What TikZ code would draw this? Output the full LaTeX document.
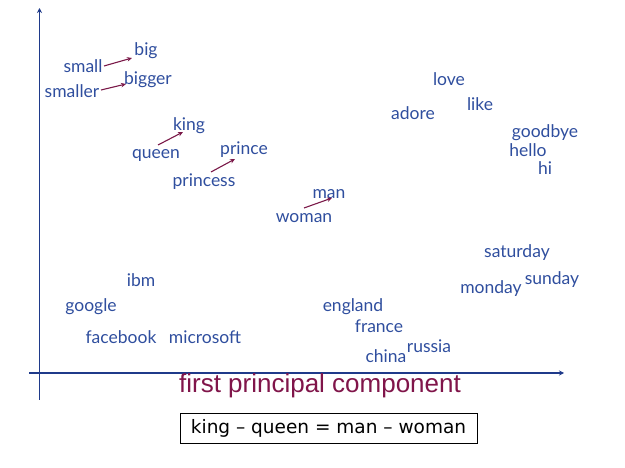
\documentclass[tikz,border=0pt]{standalone}
\usepackage{fontspec}
\setmainfont{Lato}
\newfontfamily\titlefont{Liberation Sans}
\newfontfamily\boxfont{DejaVu Sans}
\usetikzlibrary{arrows.meta}
\definecolor{wordblue}{HTML}{2F4E9E}
\definecolor{axisblue}{HTML}{1F3A8A}
\definecolor{arrred}{HTML}{7A1848}
\definecolor{titlered}{HTML}{80154A}
\tikzset{
  word/.style={text=wordblue, font=\fontsize{17.5}{20}\selectfont, inner sep=0pt, anchor=center, yshift=-2pt},
  arr/.style={draw=arrred, line width=1.1pt, -{Stealth[length=5pt,width=4.5pt]}},
  axis/.style={draw=axisblue, line width=1.8pt, -{Stealth[length=5pt,width=5pt]}}
}
\begin{document}
\begin{tikzpicture}[x=1pt,y=-1pt]
\useasboundingbox (0,0) rectangle (625,468);
% axes
\coordinate (yb) at (39.5,400);
\coordinate (yt) at (39.5,8);
\coordinate (xl) at (29,373);
\coordinate (xr) at (564,373);
\draw[axis] (yb) -- (yt);
\draw[axis] (xl) -- (xr);
% words
\node[word] (big) at (146,49) {big};
\node[word] (small) at (83,64) {small};
\node[word] (bigger) at (148,78) {bigger};
\node[word] (smaller) at (72,89) {smaller};
\node[word] (king) at (189,124) {king};
\node[word] (queen) at (156,153) {queen};
\node[word] (prince) at (244,148) {prince};
\node[word] (princess) at (204,180) {princess};
\node[word] (man) at (329,192) {man};
\node[word] (woman) at (304,216) {woman};
\node[word] (love) at (449,77) {love};
\node[word] (like) at (480,102) {like};
\node[word] (adore) at (413,111) {adore};
\node[word] (goodbye) at (545,131) {goodbye};
\node[word] (hello) at (528,148) {hello};
\node[word] (hi) at (545,166) {hi};
\node[word] (saturday) at (517,251) {saturday};
\node[word] (sunday) at (552,278) {sunday};
\node[word] (monday) at (491,287) {monday};
\node[word] (ibm) at (141,278) {ibm};
\node[word] (google) at (91,305) {google};
\node[word] (facebook) at (121,335) {facebook};
\node[word] (microsoft) at (205,335) {microsoft};
\node[word] (england) at (353,305) {england};
\node[word] (france) at (379,324) {france};
\node[word] (russia) at (429,344) {russia};
\node[word] (china) at (386,354) {china};
% arrows
\draw[arr] ([shift={(21,0)}]small.center) -- ([shift={(-14,7)}]big.center);
\draw[arr] ([shift={(29,-1)}]smaller.center) -- ([shift={(-22,4)}]bigger.center);
\draw[arr] ([shift={(2,-10)}]queen.center) -- ([shift={(-6,6)}]king.center);
\draw[arr] ([shift={(7,-10)}]princess.center) -- ([shift={(-9,9)}]prince.center);
\draw[arr] ([shift={(0,-10)}]woman.center) -- ([shift={(3,4)}]man.center);
% title and box
\node[text=titlered, font=\titlefont\fontsize{26}{30}\selectfont, inner sep=0pt] (title) at (320,386) {first principal component};
\node[draw=black, line width=1pt, font=\boxfont\fontsize{18.5}{22}\selectfont, minimum width=297pt, minimum height=30pt, inner sep=0pt] (eq) at (328.5,428) {king – queen = man – woman};
\end{tikzpicture}
\end{document}
